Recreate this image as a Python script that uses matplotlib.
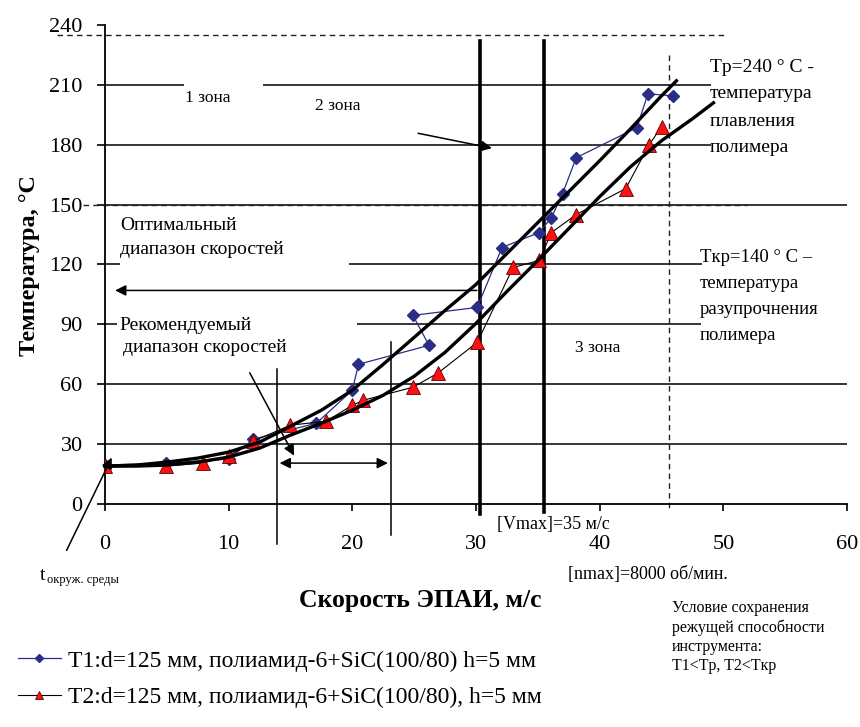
import matplotlib.pyplot as plt

plt.rcParams['font.family'] = ['Liberation Serif', 'DejaVu Serif']

# ---------------- data ----------------
v_t1 = [0, 4.9, 10.0, 12.0, 17.1, 20.0, 20.5, 26.2, 24.9, 30.1, 32.1, 35.1,
        36.1, 37.0, 38.1, 43.0, 43.9, 45.9]
t_t1 = [19.5, 20.5, 22.5, 32.5, 40.5, 57, 70, 79.5, 94.5, 98.5, 128.5, 136,
        143.5, 155.5, 173.5, 188.5, 205.5, 204.5]

v_t2 = [0, 4.9, 7.9, 10.0, 12.0, 15.0, 17.9, 20.0, 20.9, 24.9, 26.9, 30.1,
        33.0, 35.1, 36.1, 38.1, 42.1, 44.0, 45.0]
t_t2 = [19, 19, 20.5, 24, 31.5, 39.5, 41.5, 49.5, 52, 58.5, 65.5, 81,
        118.5, 122, 136, 145, 158, 180, 189]

# trend curves as drawn in the source chart
trend1_v = [0, 2.5, 5, 7.5, 10, 12.5, 15, 17.5, 20, 22.5, 25, 27.5, 30,
            32.5, 35, 37.5, 40, 42.5, 45, 46.2]
trend1_t = [19, 19.5, 21, 23, 26, 31, 39, 47, 57, 70, 83.5, 97, 110,
            125.5, 141, 156.5, 172, 188, 204.5, 212]
trend2_v = [0, 2.5, 5, 7.5, 10, 12.5, 15, 17.5, 20, 22.5, 25, 27.5, 30,
            32.5, 35, 37.5, 40, 42.5, 45, 47.5, 49.2]
trend2_t = [19, 19, 19.5, 21, 23.5, 28, 34.5, 40.5, 47, 54.5, 64, 76, 90.5,
            106.5, 122, 138, 154, 169, 182, 193, 201]

x_ticks = [0, 10, 20, 30, 40, 50, 60]
y_ticks = [0, 30, 60, 90, 120, 150, 180, 210, 240]

t_melt_line = 235      # dashed top line
t_soft_line = 150      # dashed line at softening level
v_zone = [30.3, 35.5]  # thick zone boundaries
v_rec = [13.9, 23.1]   # recommended speed range
v_nmax = 45.6          # dashed vertical

labels = ["T1:d=125 мм, полиамид-6+SiC(100/80) h=5 мм",
          "T2:d=125 мм, полиамид-6+SiC(100/80), h=5 мм"]

W, H = 860, 727


def put(x, y, s, **kw):
    # place text by pixel position of the picture
    kw.setdefault('ha', 'left')
    kw.setdefault('va', 'center')
    fig.text(x / W, 1 - y / H, s, **kw)


fig = plt.figure(figsize=(8.6, 7.27), dpi=100)
ax = fig.add_axes([0.122, 0.3067, 0.863, 0.659])
ax.set_xlim(0, 60)
ax.set_ylim(0, 240)
for s in ['top', 'right']:
    ax.spines[s].set_visible(False)
for s in ['left', 'bottom']:
    ax.spines[s].set_linewidth(1.3)
ax.set_xticks(x_ticks)
ax.set_yticks(y_ticks)
ax.tick_params(axis='y', direction='out', length=6, width=1.2, labelsize=16, pad=10)
ax.tick_params(axis='x', direction='out', length=5, width=1.2, labelsize=16, pad=17)

# partial gridlines
k = dict(color='black', lw=1.1, zorder=1)
ax.hlines(30, 0, 60, **k)
ax.hlines(60, 0, 60, **k)
ax.hlines(90, 0, 1.0, **k)
ax.hlines(90, 20.4, 48.2, **k)
ax.hlines(120, 0, 1.2, **k)
ax.hlines(120, 19.7, 48.3, **k)
ax.hlines(150, 0, 60, **k)
ax.hlines(180, 0, 49.0, **k)
ax.hlines(210, 0, 6.4, **k)
ax.hlines(210, 12.8, 49.0, **k)

# dashed reference lines
dk = dict(color='#222222', lw=1.0, dashes=(4, 3), clip_on=False, zorder=2)
ax.plot([-3.9, 50.3], [t_melt_line, t_melt_line], **dk)
ax.plot([-1.8, 51.9], [t_soft_line, t_soft_line], **dk)
ax.plot([v_nmax, v_nmax], [225, -4], **dk)

# zone boundaries
ax.plot([v_zone[0]] * 2, [232, -5], color='black', lw=2.6, clip_on=False, zorder=2)
ax.plot([v_zone[1]] * 2, [232, -4], color='black', lw=2.6, clip_on=False, zorder=2)
ax.plot([v_rec[0]] * 2, [67.5, -20], color='black', lw=1.1, clip_on=False, zorder=2)
ax.plot([v_rec[1]] * 2, [81, -15.5], color='black', lw=1.1, clip_on=False, zorder=2)

# series
l1, = ax.plot(v_t1, t_t1, color='#2B2E86', lw=0.9, marker='D', ms=6,
              mfc='#2B2E86', mec='#2B2E86', zorder=3)
l2, = ax.plot(v_t2, t_t2, color='black', lw=0.8, marker='^', ms=9.5,
              mfc='#FF1010', mec='#600000', mew=0.6, zorder=3)

# trendlines
ax.plot(trend1_v, trend1_t, color='black', lw=2.4, zorder=4, clip_on=False,
        solid_joinstyle='round')
ax.plot(trend2_v, trend2_t, color='black', lw=2.4, zorder=4, clip_on=False,
        solid_joinstyle='round')

# arrows
ap = dict(arrowstyle='-|>', color='black', lw=1.1, mutation_scale=16)
ax.annotate('', xy=(0.6, 107), xytext=(v_zone[0], 107), arrowprops=ap,
            annotation_clip=False)
ax.annotate('', xy=(31.5, 178), xytext=(25.1, 186), arrowprops=ap)
ax.annotate('', xy=(15.4, 23), xytext=(11.6, 67), arrowprops=ap)
ax.annotate('', xy=(v_rec[0], 20.5), xytext=(v_rec[1], 20.5),
            arrowprops=dict(arrowstyle='<|-|>', color='black', lw=1.1,
                            mutation_scale=16))
ax.annotate('', xy=(0.65, 24.5), xytext=(-3.2, -24.5), arrowprops=ap,
            annotation_clip=False)

# in-plot texts
put(185, 98, "1 зона", fontsize=12.5)
put(315, 106, "2 зона", fontsize=12.5)
put(575, 348, "3 зона", fontsize=12.5)
put(120, 225, "Оптимальный", fontsize=14)
put(120, 250, "диапазон скоростей", fontsize=14)
put(119, 325, "Рекомендуемый", fontsize=14)
put(123, 347, "диапазон скоростей", fontsize=14)

for i, s in enumerate(["Tp=240 ° C -", "температура", "плавления", "полимера"]):
    put(710, 67 + 27 * i, s, fontsize=14)
for i, s in enumerate(["Tкр=140 ° C –", "температура", "разупрочнения", "полимера"]):
    put(700, 257 + 26 * i, s, fontsize=13.5)

put(497, 525, "[Vmax]=35 м/с", fontsize=13)
put(568, 574, "[nmax]=8000 об/мин.", fontsize=13)
put(40, 576, "t", fontsize=14)
put(47, 580, "окруж. среды", fontsize=9)

put(420, 600, "Скорость ЭПАИ, м/с", fontsize=18.5, fontweight='bold', ha='center')
fig.text(30 / W, 1 - 265 / H, "Температура, °С", fontsize=17.5, fontweight='bold',
         rotation=90, ha='center', va='center')

for i, s in enumerate(["Условие сохранения", "режущей способности",
                       "инструмента:", "T1<Tp, T2<Tкр"]):
    put(672, 608 + 19.5 * i, s, fontsize=11.5)

fig.legend([l1, l2], labels, loc='upper left', bbox_to_anchor=(18 / W, 1 - 650 / H),
           frameon=False, fontsize=17, handlelength=1.8, handletextpad=0.3,
           labelspacing=0.65, markerscale=0.65, borderaxespad=0, borderpad=0)

fig.savefig('out.png', dpi=100)
